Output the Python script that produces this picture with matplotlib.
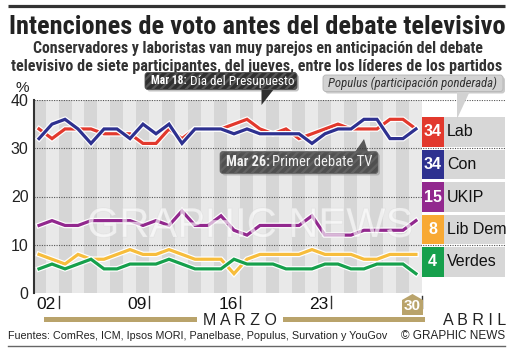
import matplotlib
matplotlib.use('Agg')
import matplotlib.pyplot as plt
import matplotlib.patheffects as pe
from matplotlib import font_manager
from matplotlib.patches import FancyBboxPatch, Polygon, Rectangle

# datos: sondeos diarios de marzo (1..30)
dias = list(range(1, 31))
lab = [34, 32, 34, 34, 34, 33, 33, 33, 31, 31, 34, 32, 34, 34, 34, 35, 36, 34, 33, 34,
       32, 33, 34, 35, 34, 34, 34, 36, 36, 34]
con = [32, 35, 36, 34, 31, 34, 34, 32, 35, 33, 35, 31, 34, 34, 34, 33, 34, 33, 33, 33,
       33, 31, 33, 34, 34, 36, 36, 32, 32, 34]
ukip = [14, 15, 14, 14, 15, 15, 15, 15, 14, 15, 14, 17, 14, 14, 16, 13, 12, 14, 14, 14,
        14, 16, 12, 12, 12, 13, 13, 13, 13, 15]
libdem = [8, 7, 6, 8, 7, 7, 8, 9, 8, 8, 9, 8, 7, 7, 7, 4, 7, 8, 8, 8,
          8, 9, 8, 8, 8, 7, 7, 8, 8, 8]
verdes = [5, 6, 5, 6, 7, 5, 5, 6, 6, 6, 7, 6, 5, 5, 5, 7, 6, 6, 6, 5,
          5, 5, 6, 6, 5, 5, 6, 6, 6, 4]

partidos = ['Lab', 'Con', 'UKIP', 'Lib Dem', 'Verdes']
ultimo = [34, 34, 15, 8, 4]
col_linea = ['#e2392d', '#2e3190', '#92288e', '#f7bd3c', '#16a04c']
col_caja = ['#e2392d', '#2e3190', '#92288e', '#f8a933', '#16a04c']
series = [lab, con, ukip, libdem, verdes]

dias_tick = [2, 9, 16, 23]
etiq_tick = ['02', '09', '16', '23']
yticks = [0, 10, 20, 30, 40]

TAN = '#b9a36b'

# fuente estrecha: la primera que exista
disponibles = {f.name for f in font_manager.fontManager.ttflist}
estrecha = 'DejaVu Sans'
for nombre in ['Roboto Condensed', 'Liberation Sans Narrow', 'DejaVu Sans Condensed',
               'Roboto', 'Liberation Sans']:
    if nombre in disponibles:
        estrecha = nombre
        break
narrow = [estrecha, 'DejaVu Sans']
sans = ['Liberation Sans', 'DejaVu Sans']

W, H = 515, 349
fig = plt.figure(figsize=(W / 100, H / 100), dpi=100)

# ejes principales (en pixeles: x 34..505, y 100..293)
ax = fig.add_axes([34 / W, 1 - 293 / H, (505 - 34) / W, (293 - 100) / H])
ax.set_xlim(0.615, 36.85)
ax.set_ylim(0, 40)

# franjas verticales por dia
for d in dias:
    c = '#d6d6d6' if d % 2 == 1 else '#e9e9e9'
    ax.axvspan(d - 0.5, d + 0.5, color=c, lw=0, zorder=0)

for v in yticks[1:]:
    ax.axhline(v, color='#555555', lw=0.8, ls=(0, (1, 1.2)), zorder=1)

for s in ['top', 'right', 'bottom']:
    ax.spines[s].set_visible(False)
ax.spines['left'].set_color('#333333')
ax.spines['left'].set_linewidth(1.5)
ax.set_xticks([])
ax.set_yticks(yticks)
ax.set_yticklabels([str(v) for v in yticks], fontsize=11.5, family=sans, color='#222222')
ax.tick_params(axis='y', length=0, pad=4)

# lineas con borde blanco
orden = [2, 3, 4, 0, 1]
for i in orden:
    ax.plot(dias, series[i], color=col_linea[i], lw=2.3, zorder=3 + i,
            solid_joinstyle='miter',
            path_effects=[pe.Stroke(linewidth=4.0, foreground='white'), pe.Normal()])

# marcas y etiquetas del eje x
tr = ax.get_xaxis_transform()
for d, t in zip(dias_tick + [30], etiq_tick + ['30']):
    ax.plot([d + 0.5, d + 0.5], [-0.016, -0.078], color='#333333', lw=1,
            transform=tr, clip_on=False)
    if t != '30':
        ax.text(d + 0.3, -0.062, t, transform=tr, ha='right', va='center',
                fontsize=12.5, family=sans, color='#111111')

# capa de dibujo en pixeles
ov = fig.add_axes([0, 0, 1, 1], zorder=5)
ov.set_xlim(0, W)
ov.set_ylim(H, 0)
ov.axis('off')

# marca de agua
ov.text(250, 226, 'GRAPHIC NEWS', fontsize=30, family=sans, color='white',
        alpha=0.4, ha='center', va='center', zorder=1,
        path_effects=[pe.withStroke(linewidth=0.8, foreground='#d8d8d8')])

# caja "30"
ov.add_patch(Polygon([(402, 315), (402, 300), (412.5, 294), (423, 300), (423, 315)],
                     closed=True, color=TAN, lw=0))
ov.text(412.5, 306, '30', ha='center', va='center', color='white', fontsize=11,
        weight='bold', family=sans)

# barras de meses
ov.add_patch(Rectangle((44, 317.3), 153, 4.5, color=TAN, lw=0))
ov.add_patch(Rectangle((283, 317.3), 142, 4.5, color=TAN, lw=0))
ov.text(240, 320.5, 'M A R Z O', ha='center', va='center', fontsize=11.5,
        family=sans, color='#222222')
ov.text(475, 320.5, 'A B R I L', ha='center', va='center', fontsize=11.5,
        family=sans, color='#222222')

ov.text(22, 88, '%', ha='center', va='center', fontsize=11, family=sans, color='#222222')

# leyenda
tops = [117, 149.5, 182, 214.5, 247]
for i, nombre in enumerate(partidos):
    y0 = tops[i]
    ov.add_patch(Rectangle((443, y0), 62, 29.5, color='#d7d7d7', lw=0, zorder=2))
    ov.add_patch(Rectangle((422, y0), 21.5, 29.5, color=col_caja[i], lw=0, zorder=3))
    ov.text(432.7, y0 + 15, str(ultimo[i]), ha='center', va='center', color='white',
            fontsize=11.5, weight='bold', family=sans, zorder=4)
    ov.text(447, y0 + 15, nombre, ha='left', va='center', color='#111111',
            fontsize=11.5, family=sans, zorder=4)


def caja(x0, y0, x1, y1, cola, fc, ec, alpha=1.0, hatch=None, sombra='#9a9a9a'):
    ov.add_patch(FancyBboxPatch((x0 + 2, y0 + 2), x1 - x0, y1 - y0,
                                boxstyle='round,pad=0,rounding_size=3',
                                fc=sombra, ec='none', alpha=0.6, zorder=5))
    ov.add_patch(Polygon(cola, closed=True, fc=fc, ec='none', alpha=alpha, zorder=6,
                         hatch=hatch))
    p = FancyBboxPatch((x0, y0), x1 - x0, y1 - y0,
                       boxstyle='round,pad=0,rounding_size=3',
                       fc=fc, ec=ec, lw=0.6, alpha=alpha, zorder=6, hatch=hatch)
    ov.add_patch(p)


plt.rcParams['hatch.linewidth'] = 1.6
caja(145, 72.5, 297, 89.5, [(261.5, 89), (261.5, 105), (274, 89)],
     '#303030', '#555555', hatch='////')
caja(220, 151.5, 378, 173.5, [(355, 152), (364, 139), (368, 152)],
     '#3a3a3a', '#666666', alpha=0.82, hatch='////')
caja(323, 75, 503, 91.5, [(457, 91), (457, 119), (470, 91)],
     '#d2d2d2', '#b5b5b5', sombra='#a8a8a8')

t1a = ov.text(151, 81, 'Mar 18:', ha='left', va='center', color='white',
              fontsize=10, weight='bold', family=narrow, zorder=7)
t1b = ov.text(190, 81, 'Día del Presupuesto', ha='left', va='center', color='white',
              fontsize=10, family=narrow, zorder=7)
t2a = ov.text(226, 162.5, 'Mar 26:', ha='left', va='center', color='#f2f2f2',
              fontsize=11, weight='bold', family=narrow, zorder=7)
t2b = ov.text(272, 162.5, 'Primer debate TV', ha='left', va='center', color='#f2f2f2',
              fontsize=11, family=narrow, zorder=7)
t3 = ov.text(413, 83.5, 'Populus (participación ponderada)', ha='center', va='center',
             color='#333333', fontsize=10, style='italic', family=narrow, zorder=7)

# titulos
ov.plot([8, 505], [5.7, 5.7], color='#333333', lw=2.3, solid_capstyle='butt')
tt = ov.text(257, 33.5, 'Intenciones de voto antes del debate televisivo',
             ha='center', va='baseline', fontsize=20, weight='bold', family=narrow,
             color='#222222')
s1 = ov.text(257.5, 53.5, 'Conservadores y laboristas van muy parejos en anticipación del debate',
             ha='center', va='baseline', fontsize=11.5, weight='bold', family=narrow,
             color='#333333')
s2 = ov.text(256.5, 70.5, 'televisivo de siete participantes, del jueves, entre los líderes de los partidos',
             ha='center', va='baseline', fontsize=11.5, weight='bold', family=narrow,
             color='#333333')

# pie
f1 = ov.text(8, 336, 'Fuentes: ComRes, ICM, Ipsos MORI, Panelbase, Populus, Survation y YouGov',
             ha='left', va='center', fontsize=8.5, family=sans, color='#222222')
ov.text(505, 336, '© GRAPHIC NEWS', ha='right', va='center', fontsize=8.5,
        family=sans, color='#222222')
ov.plot([8, 505], [345.5, 345.5], color='#666666', lw=1)

# ajustar anchos de texto a la referencia
fig.canvas.draw()
r = fig.canvas.get_renderer()


def ajustar(t, ancho):
    w = t.get_window_extent(r).width
    t.set_fontsize(t.get_fontsize() * ancho / w)


ajustar(tt, 495)
ajustar(s1, 455)
ajustar(s2, 493)
ajustar(t1a, 36)
ajustar(t1b, 104)
ajustar(t2a, 44)
ajustar(t2b, 100)
ajustar(t3, 169)
ajustar(f1, 377)

fig.savefig('out.png', dpi=100)
